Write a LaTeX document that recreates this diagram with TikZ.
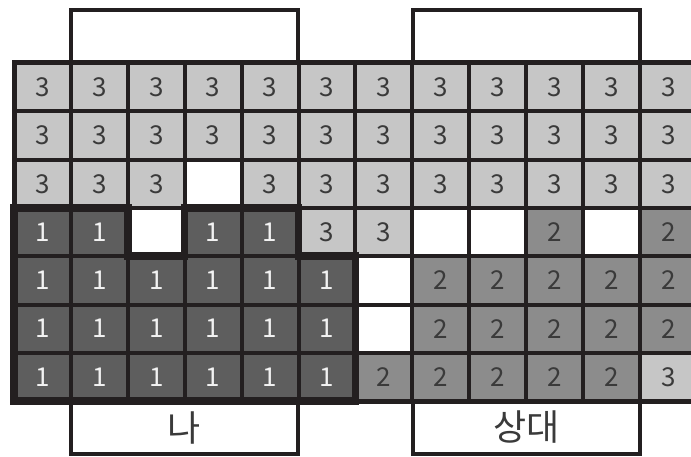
\documentclass[tikz,border=0pt]{standalone}
\usepackage{fontspec}
\setmainfont{Noto Sans CJK KR}
\definecolor{ln}{HTML}{231F20}
\definecolor{g3}{HTML}{C6C6C6}
\definecolor{g2}{HTML}{8C8C8C}
\definecolor{g1}{HTML}{5E5E5E}
\definecolor{t3}{HTML}{3A3A3A}
\definecolor{t1}{HTML}{F2F2F2}
\tikzset{
  cellbox/.style={rectangle, draw=none, inner sep=0pt, minimum width=56.9pt, minimum height=48.3pt,
    font=\fontsize{26}{26}\selectfont},
  v0/.style={fill=white},
  v1/.style={fill=g1, text=t1},
  v2/.style={fill=g2, text=t3},
  v3/.style={fill=g3, text=t3},
  gridline/.style={draw=ln, line width=4pt},
  outerline/.style={draw=ln, line width=5pt},
  mineline/.style={draw=ln, line width=7.5pt, line join=miter},
  labelbox/.style={rectangle, draw=ln, line width=4.5pt, inner sep=0pt, minimum width=227pt, minimum height=53pt,
    font=\fontsize{36}{36}\selectfont, text=t3}
}
\begin{document}
\begin{tikzpicture}[x=1pt, y=-1pt]
\useasboundingbox (0,0) rectangle (691,457);
\clip (0,0) rectangle (691,457);
\fill[white] (0,0) rectangle (691,457);
% cells
\foreach \r/\row in {0/{3,3,3,3,3,3,3,3,3,3,3,3},
                     1/{3,3,3,3,3,3,3,3,3,3,3,3},
                     2/{3,3,3,0,3,3,3,3,3,3,3,3},
                     3/{1,1,0,1,1,3,3,0,0,2,0,2},
                     4/{1,1,1,1,1,1,0,2,2,2,2,2},
                     5/{1,1,1,1,1,1,0,2,2,2,2,2},
                     6/{1,1,1,1,1,1,2,2,2,2,2,3}}{
  \foreach \v [count=\c from 0] in \row {
    \node[cellbox, v\v] (c\r-\c) at ({14+56.9*(\c+0.5)}, {63+48.3*(\r+0.5)}) {\ifnum\v>0 \v\fi};
  }
}
% grid lines
\foreach \i in {1,...,11} {
  \draw[gridline] ({14+56.9*\i}, 63) -- ({14+56.9*\i}, 401);
}
\foreach \j in {1,...,6} {
  \draw[gridline] (14, {63+48.3*\j}) -- (697, {63+48.3*\j});
}
\draw[outerline] (14,63) rectangle (697,401);
% label boxes
\node[labelbox] (topleft) at (184.5,36.5) {};
\node[labelbox] (topright) at (526.5,36.5) {};
\node[labelbox] (me) at (184.5,427.5) {나};
\node[labelbox] (opp) at (526.5,427.5) {상대};
% my region outline
\draw[mineline] (14,208) -- (127.8,208) -- (127.8,256.2) -- (184.7,256.2) -- (184.7,208)
  -- (298.5,208) -- (298.5,256.2) -- (355.4,256.2) -- (355.4,401) -- (14,401) -- cycle;
\end{tikzpicture}
\end{document}
